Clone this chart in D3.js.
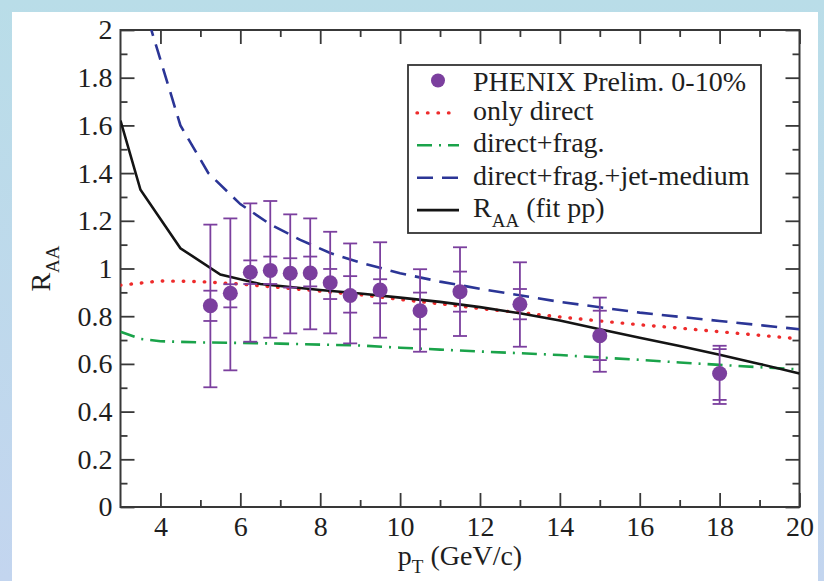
<!DOCTYPE html>
<html>
<head>
<meta charset="utf-8">
<script src="https://cdn.jsdelivr.net/npm/d3@7"></script>
<style>
body{margin:0;background:#fff;}
svg{display:block;}
text{font-family:"Liberation Serif","Times New Roman",serif;fill:#1e1e1e;}
</style>
</head>
<body>
<div id="chart"></div>
<script>
var w=824,h=581;

// PHENIX preliminary points, 0-10%
var ptData=[5.25,5.75,6.25,6.75,7.25,7.75,8.25,8.75,9.5,10.5,11.5,13,15,18];
var raa=[0.844,0.896,0.984,0.992,0.98,0.981,0.94,0.887,0.91,0.823,0.903,0.85,0.718,0.56];
var statLo=[0.78,0.837,0.935,0.935,0.92,0.925,0.872,0.815,0.854,0.745,0.819,0.787,0.616,0.449];
var statHi=[0.907,0.934,1.034,1.05,1.043,1.05,0.998,0.968,0.955,0.899,0.987,0.914,0.823,0.662];
var sysLo=[0.502,0.573,0.693,0.71,0.728,0.745,0.728,0.686,0.71,0.651,0.717,0.672,0.567,0.432];
var sysHi=[1.184,1.21,1.273,1.283,1.227,1.21,1.154,1.105,1.11,0.997,1.089,1.026,0.878,0.676];

// model curves
var directPt=[3,4,5,6,7,8,9,10,11,12,13,14,15,16,17,18,19,20];
var onlyDirect=[0.93,0.948,0.945,0.935,0.92,0.905,0.89,0.87,0.852,0.832,0.815,0.797,0.78,0.764,0.75,0.735,0.72,0.705];
var fragPt=[3,3.5,4,5,6,7,8,9,10,11,12,13,14,15,16,17,18,19,20];
var directFrag=[0.735,0.705,0.695,0.69,0.688,0.685,0.681,0.677,0.668,0.66,0.652,0.645,0.637,0.627,0.617,0.606,0.596,0.586,0.577];
var jetPt=[3.7,4.5,5.2,6,6.75,7.5,8.25,9,10,11,12,14,16,18,20];
var jetMedium=[2.04,1.6,1.4,1.27,1.185,1.12,1.065,1.025,0.98,0.945,0.915,0.86,0.815,0.78,0.745];
var fitPt=[3,3.5,4.5,5.5,6.5,8,9,10,11,12,13,14,15,16,17,18,19,20];
var fitPP=[1.62,1.33,1.085,0.975,0.935,0.91,0.895,0.878,0.86,0.838,0.812,0.782,0.745,0.71,0.675,0.638,0.6,0.56];

// ticks
var xMajor=[4,6,8,10,12,14,16,18,20];
var xMinor=[5,7,9,11,13,15,17,19];
var yMajor=[0,0.2,0.4,0.6,0.8,1,1.2,1.4,1.6,1.8,2];
var yMinor=[0.1,0.3,0.5,0.7,0.9,1.1,1.3,1.5,1.7,1.9];

var legendNames=["PHENIX Prelim. 0-10%","only direct","direct+frag.","direct+frag.+jet-medium","R"];

var svg=d3.select("#chart").append("svg")
    .attr("width",w)
    .attr("height",h);

var defs=svg.append("defs");

// slide background: light blue frame round a white panel
var bg=defs.append("linearGradient")
    .attr("id","bg")
    .attr("x1",0).attr("y1",0).attr("x2",0).attr("y2",1);
bg.append("stop").attr("offset","0%").attr("stop-color","#b9dde8");
bg.append("stop").attr("offset","100%").attr("stop-color","#c3d5ef");

svg.append("rect").attr("width",w).attr("height",h).attr("fill","url(#bg)");
svg.append("rect").attr("x",12).attr("y",12).attr("width",806).attr("height",h-12).attr("fill","#fff");

var x=d3.scaleLinear().domain([3,20]).range([120.5,799.5]);
var y=d3.scaleLinear().domain([0,2]).range([507,30]);

defs.append("clipPath").attr("id","plot")
  .append("rect")
    .attr("x",x(3)).attr("y",y(2))
    .attr("width",x(20)-x(3)).attr("height",y(0)-y(2));

var axisColor="#383838";
var serif="'Liberation Serif','Times New Roman',serif";

function styleAxis(g){
  g.select(".domain").remove();
  g.selectAll("line").attr("stroke",axisColor).attr("stroke-width",1.8);
}

// x axes (bottom with labels, top mirrored)
svg.append("g")
    .attr("transform","translate(0,"+y(0)+")")
    .call(d3.axisBottom(x).tickValues(xMajor).tickSize(-14).tickPadding(8).tickFormat(d3.format("d")))
    .call(styleAxis)
    .selectAll("text").attr("font-size",28).attr("fill","#1e1e1e").attr("dy","0.76em")
    .attr("font-family",serif);
svg.append("g")
    .attr("transform","translate(0,"+y(0)+")")
    .call(d3.axisBottom(x).tickValues(xMinor).tickSize(-7).tickFormat(""))
    .call(styleAxis);
svg.append("g")
    .attr("transform","translate(0,"+y(2)+")")
    .call(d3.axisTop(x).tickValues(xMajor).tickSize(-14).tickFormat(""))
    .call(styleAxis);
svg.append("g")
    .attr("transform","translate(0,"+y(2)+")")
    .call(d3.axisTop(x).tickValues(xMinor).tickSize(-7).tickFormat(""))
    .call(styleAxis);

// y axes (left with labels, right mirrored)
svg.append("g")
    .attr("transform","translate("+x(3)+",0)")
    .call(d3.axisLeft(y).tickValues(yMajor).tickSize(-14).tickPadding(8).tickFormat(function(d){ return String(+d.toFixed(1)); }))
    .call(styleAxis)
    .selectAll("text").attr("font-size",28).attr("fill","#1e1e1e")
    .attr("font-family",serif);
svg.append("g")
    .attr("transform","translate("+x(3)+",0)")
    .call(d3.axisLeft(y).tickValues(yMinor).tickSize(-7).tickFormat(""))
    .call(styleAxis);
svg.append("g")
    .attr("transform","translate("+x(20)+",0)")
    .call(d3.axisRight(y).tickValues(yMajor).tickSize(-14).tickFormat(""))
    .call(styleAxis);
svg.append("g")
    .attr("transform","translate("+x(20)+",0)")
    .call(d3.axisRight(y).tickValues(yMinor).tickSize(-7).tickFormat(""))
    .call(styleAxis);

// frame
svg.append("rect")
    .attr("x",x(3)).attr("y",y(2))
    .attr("width",x(20)-x(3)).attr("height",y(0)-y(2))
    .attr("fill","none").attr("stroke",axisColor).attr("stroke-width",2);

// curves
var curves=[
  {xs:directPt,ys:onlyDirect,color:"#ee2b2b",dash:"0.5,10",width:3.4,cap:"round"},
  {xs:fragPt,ys:directFrag,color:"#1aa34a",dash:"15,7,2,7",width:2.6,cap:"butt"},
  {xs:jetPt,ys:jetMedium,color:"#2b3596",dash:"16,9",width:2.6,cap:"butt"},
  {xs:fitPt,ys:fitPP,color:"#141414",dash:null,width:2.6,cap:"butt"}
];

var line=d3.line()
    .x(function(d){ return x(d[0]); })
    .y(function(d){ return y(d[1]); });

var curveG=svg.append("g").attr("clip-path","url(#plot)");
curves.forEach(function(c){
  curveG.append("path")
      .attr("d",line(d3.zip(c.xs,c.ys)))
      .attr("fill","none")
      .attr("stroke",c.color)
      .attr("stroke-width",c.width)
      .attr("stroke-linecap",c.cap)
      .attr("stroke-dasharray",c.dash);
});

// data points with two sets of error bars
var purple="#7b3f9e";
var pts=ptData.map(function(p,i){
  return {pt:p,v:raa[i],sLo:statLo[i],sHi:statHi[i],yLo:sysLo[i],yHi:sysHi[i]};
});

var pg=svg.append("g").selectAll("g")
    .data(pts)
  .enter().append("g")
    .attr("transform",function(d){ return "translate("+x(d.pt)+",0)"; });

pg.append("line")
    .attr("x1",0).attr("x2",0)
    .attr("y1",function(d){ return y(d.yHi); })
    .attr("y2",function(d){ return y(d.yLo); })
    .attr("stroke",purple).attr("stroke-width",1.8);

["yHi","yLo","sHi","sLo"].forEach(function(k){
  pg.append("line")
      .attr("x1",-7).attr("x2",7)
      .attr("y1",function(d){ return y(d[k]); })
      .attr("y2",function(d){ return y(d[k]); })
      .attr("stroke",purple).attr("stroke-width",1.8);
});

pg.append("circle")
    .attr("cy",function(d){ return y(d.v); })
    .attr("r",7.5)
    .attr("fill",purple);

// legend
var lg=svg.append("g");
lg.append("rect")
    .attr("x",408).attr("y",65).attr("width",353).attr("height",168)
    .attr("fill","#fff").attr("stroke","#333").attr("stroke-width",1.8);

legendNames.forEach(function(name,i){
  var ly=80.5+32.4*i;
  if(i===0){
    lg.append("circle").attr("cx",438).attr("cy",ly).attr("r",7).attr("fill",purple);
  } else {
    var c=curves[i-1];
    lg.append("line")
        .attr("x1",417).attr("x2",459).attr("y1",ly).attr("y2",ly)
        .attr("stroke",c.color).attr("stroke-width",c.width)
        .attr("stroke-linecap",c.cap)
        .attr("stroke-dasharray",c.dash);
  }
  var t=lg.append("text")
      .attr("x",473).attr("y",ly+(i===0?10:7))
      .attr("font-size",28)
      .text(name);
  if(i===4){
    t.append("tspan").attr("font-size",19).attr("dy",10).text("AA");
    t.append("tspan").attr("dy",-10).text(" (fit pp)");
  }
});

// axis titles
var xt=svg.append("text")
    .attr("x",(x(3)+x(20))/2).attr("y",565)
    .attr("text-anchor","middle")
    .attr("font-size",28)
    .text("p");
xt.append("tspan").attr("font-size",19).attr("dy",8).text("T");
xt.append("tspan").attr("dy",-8).text(" (GeV/c)");

var yt=svg.append("text")
    .attr("transform","translate(50,"+((y(0)+y(2))/2)+") rotate(-90)")
    .attr("text-anchor","middle")
    .attr("font-size",28)
    .text("R");
yt.append("tspan").attr("font-size",19).attr("dy",9).text("AA");
</script>
</body>
</html>
